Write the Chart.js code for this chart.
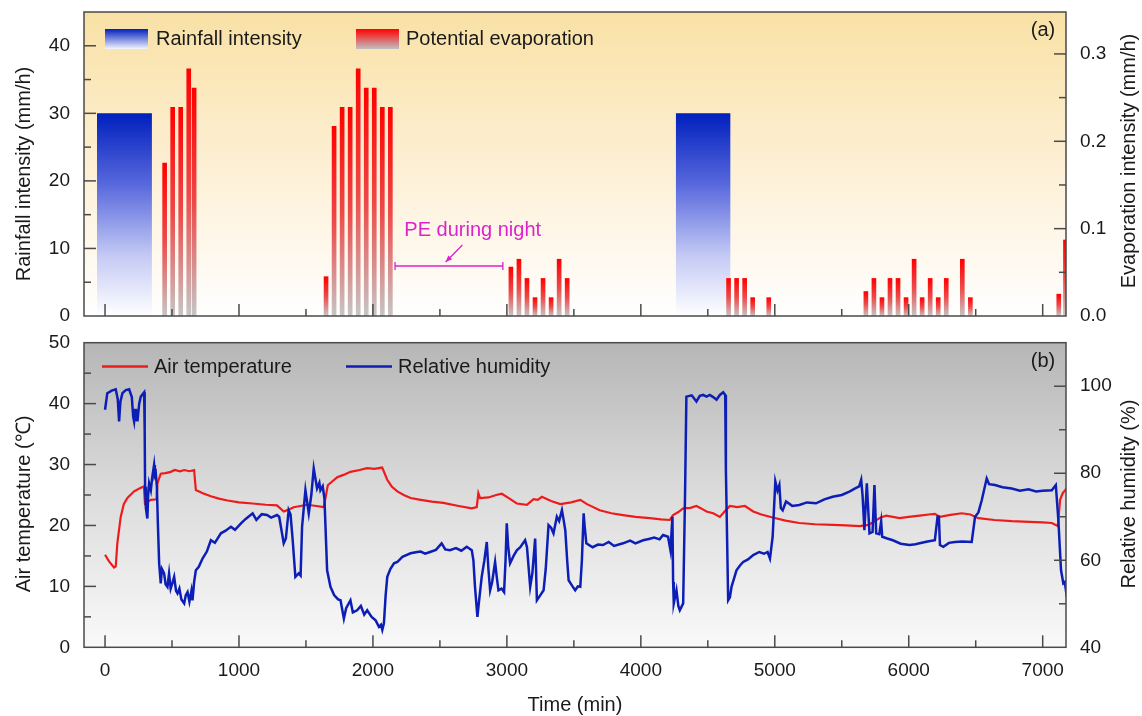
<!DOCTYPE html>
<html lang="en">
<head>
<meta charset="UTF-8">
<title>Rainfall, evaporation, air temperature and humidity</title>
<script src="https://cdn.jsdelivr.net/npm/chart.js"></script>
<style>
  body { margin: 0; background: #fff; }
  #wrap { position: relative; width: 1142px; height: 716px; }
  #topBox { position: absolute; left: 0; top: 0; width: 1142px; height: 330px; }
  #bottomBox { position: absolute; left: 0; top: 330px; width: 1142px; height: 386px; }
</style>
</head>
<body>
<div id="wrap">
  <div id="topBox"><canvas id="topChart"></canvas></div>
  <div id="bottomBox"><canvas id="bottomChart"></canvas></div>
</div>
<script>
// ---- data ----
// rainfall events: start/end (min) and intensity (mm/h)
const rainStart = [-60, 4262];
const rainEnd = [350, 4670];
const rainRate = [30, 30];

// potential evaporation, hourly values (min, mm/h)
const peTime = [445, 505, 565, 625, 665,
  1650, 1710, 1770, 1830, 1890, 1950, 2010, 2070, 2130,
  3030, 3090, 3150, 3210, 3270, 3330, 3390, 3450,
  4655, 4715, 4775, 4835, 4955,
  5680, 5740, 5800, 5860, 5920, 5980, 6040, 6100, 6160, 6220, 6280, 6400, 6460,
  7120, 7170];
const peValue = [0.175, 0.239, 0.239, 0.283, 0.261,
  0.045, 0.217, 0.239, 0.239, 0.283, 0.261, 0.261, 0.239, 0.239,
  0.056, 0.065, 0.043, 0.021, 0.043, 0.021, 0.065, 0.043,
  0.043, 0.043, 0.043, 0.021, 0.021,
  0.028, 0.043, 0.021, 0.043, 0.043, 0.021, 0.065, 0.021, 0.043, 0.021, 0.043, 0.065, 0.021,
  0.025, 0.087];

// air temperature (min, degC)
const tempTime = [
  0, 30, 67, 80, 92, 117, 140, 167, 217, 260,
  290, 298, 342, 385, 391, 416, 450, 491, 520, 560,
  591, 630, 665, 678, 730, 790, 850, 915, 1000, 1102,
  1200, 1284, 1334, 1370, 1408, 1508, 1580, 1633, 1663, 1700,
  1733, 1780, 1832, 1900, 1957, 2010, 2069, 2107, 2140, 2182,
  2230, 2281, 2356, 2440, 2526, 2640, 2738, 2775, 2787, 2800,
  2862, 2920, 2962, 3020, 3074, 3149, 3199, 3230, 3261, 3330,
  3398, 3480, 3548, 3598, 3693, 3780, 3867, 3960, 4067, 4150,
  4216, 4241, 4280, 4316, 4370, 4415, 4450, 4490, 4540, 4590,
  4630, 4665, 4720, 4777, 4839, 4900, 4984, 5080, 5183, 5300,
  5432, 5530, 5632, 5700, 5731, 5790, 5832, 5931, 6000, 6081,
  6150, 6195, 6233, 6300, 6395, 6460, 6520, 6640, 6769, 6900,
  7000, 7068, 7113, 7130, 7150, 7180];
const tempValue = [
  15.2, 14.1, 13.1, 13.3, 17.1, 21.4, 23.5, 24.5, 25.6, 26.1,
  26.4, 23.6, 24.2, 24.3, 26.9, 28.5, 28.6, 28.8, 29.1, 28.9,
  29.1, 28.9, 29.1, 25.8, 25.3, 24.8, 24.4, 24.1, 23.8, 23.6,
  23.4, 23.3, 22.3, 22.6, 23.0, 23.4, 23.2, 23.0, 26.6, 27.3,
  27.9, 28.3, 28.8, 29.1, 29.4, 29.3, 29.5, 27.5, 26.4, 25.6,
  25.0, 24.5, 24.2, 23.9, 23.7, 23.2, 22.8, 23.0, 25.3, 24.5,
  24.6, 25.0, 25.2, 24.4, 23.6, 23.4, 24.3, 24.2, 24.7, 24.0,
  23.5, 23.8, 24.2, 23.5, 22.5, 22.0, 21.7, 21.4, 21.2, 21.0,
  20.9, 21.7, 22.2, 22.8, 22.9, 23.2, 22.8, 22.3, 22.0, 21.4,
  22.4, 23.2, 23.0, 23.2, 22.3, 21.8, 21.3, 20.8, 20.4, 20.2,
  20.1, 20.0, 19.9, 20.1, 20.5, 21.3, 21.6, 21.2, 21.4, 21.6,
  21.8, 21.9, 21.4, 21.7, 22.0, 21.8, 21.2, 20.9, 20.7, 20.6,
  20.5, 20.4, 19.9, 24.2, 25.3, 26.1];

// relative humidity (min, %)
const rhTime = [
  0, 17, 50, 80, 95, 105, 115, 130, 155, 180,
  200, 210, 217, 225, 230, 238, 242, 255, 267, 292,
  296, 299, 305, 316, 322, 329, 342, 352, 366, 372,
  379, 387, 395, 404, 416, 425, 441, 452, 466, 478,
  490, 505, 516, 530, 541, 555, 570, 591, 603, 616,
  630, 645, 653, 665, 678, 700, 728, 760, 790, 820,
  865, 900, 940, 970, 1015, 1050, 1102, 1130, 1170, 1209,
  1240, 1284, 1300, 1334, 1350, 1371, 1385, 1400, 1421, 1446,
  1460, 1471, 1496, 1521, 1540, 1558, 1583, 1600, 1608, 1625,
  1638, 1658, 1683, 1710, 1740, 1758, 1783, 1800, 1832, 1850,
  1882, 1910, 1935, 1957, 1990, 2020, 2045, 2060, 2070, 2082,
  2095, 2107, 2130, 2157, 2182, 2220, 2281, 2330, 2356, 2390,
  2426, 2470, 2513, 2540, 2575, 2620, 2660, 2700, 2738, 2750,
  2762, 2780, 2790, 2812, 2832, 2850, 2862, 2875, 2890, 2912,
  2925, 2937, 2960, 2979, 2990, 2999, 3010, 3024, 3050, 3074,
  3100, 3136, 3150, 3174, 3190, 3211, 3224, 3250, 3274, 3290,
  3311, 3330, 3348, 3360, 3373, 3390, 3411, 3425, 3436, 3450,
  3461, 3490, 3510, 3530, 3548, 3560, 3573, 3580, 3593, 3640,
  3680, 3717, 3760, 3800, 3867, 3920, 3960, 4017, 4060, 4100,
  4140, 4166, 4203, 4221, 4236, 4241, 4246, 4266, 4280, 4291,
  4316, 4330, 4340, 4380, 4415, 4440, 4465, 4490, 4515, 4540,
  4565, 4590, 4615, 4630, 4635, 4652, 4665, 4677, 4714, 4740,
  4764, 4800, 4839, 4884, 4920, 4946, 4964, 4984, 5004, 5020,
  5034, 5045, 5059, 5084, 5130, 5183, 5240, 5308, 5370, 5432,
  5500, 5557, 5600, 5630, 5645, 5655, 5669, 5687, 5707, 5730,
  5744, 5757, 5780, 5794, 5802, 5840, 5881, 5940, 6006, 6050,
  6081, 6140, 6195, 6215, 6225, 6233, 6258, 6300, 6345, 6400,
  6470, 6495, 6520, 6545, 6582, 6600, 6644, 6700, 6769, 6830,
  6894, 6950, 7000, 7068, 7098, 7117, 7137, 7154, 7165, 7180];
const rhValue = [
  94.6, 98.4, 99.0, 99.3, 97.0, 91.9, 96.5, 98.4, 99.1, 99.3,
  97.5, 93.0, 91.9, 94.8, 92.0, 94.6, 91.9, 96.0, 97.6, 98.6,
  90.0, 76.9, 72.0, 69.6, 75.0, 77.7, 76.1, 79.0, 81.9, 79.5,
  80.0, 76.9, 68.0, 59.3, 54.7, 58.0, 57.0, 54.5, 53.9, 57.0,
  53.5, 55.0, 56.2, 53.0, 52.4, 53.5, 51.0, 50.1, 52.0, 52.7,
  50.5, 53.0, 50.8, 55.0, 57.7, 58.5, 60.4, 62.0, 64.6, 64.0,
  66.2, 66.8, 67.7, 67.0, 68.5, 69.5, 70.8, 69.3, 70.6, 70.4,
  69.8, 70.4, 70.0, 63.9, 65.0, 71.5, 70.5, 65.0, 56.2, 57.0,
  56.5, 67.7, 76.1, 70.8, 75.0, 81.1, 76.5, 77.8, 76.1, 77.0,
  74.2, 57.7, 53.9, 52.0, 51.0, 50.8, 46.6, 49.0, 50.8, 48.0,
  48.5, 49.5, 47.5, 48.5, 47.0, 46.2, 44.7, 45.2, 44.0, 45.5,
  52.0, 56.2, 58.0, 59.3, 59.6, 60.8, 61.6, 61.9, 62.0, 61.5,
  61.9, 62.4, 63.9, 62.5, 62.3, 62.8, 62.2, 63.1, 62.3, 60.0,
  53.9, 47.0, 50.0, 56.2, 60.0, 64.2, 58.0, 53.1, 55.0, 59.6,
  56.0, 53.1, 53.5, 52.7, 60.0, 68.5, 63.0, 59.3, 61.0, 62.3,
  63.0, 64.6, 63.0, 53.9, 57.0, 65.0, 50.8, 52.0, 53.1, 58.0,
  68.1, 67.5, 66.2, 68.0, 70.0, 69.0, 71.5, 69.0, 66.9, 60.0,
  55.4, 54.0, 53.1, 54.0, 53.9, 60.0, 70.8, 68.0, 63.9, 63.0,
  63.6, 63.5, 64.2, 63.3, 63.9, 64.5, 63.9, 64.6, 64.9, 65.2,
  64.8, 65.8, 65.4, 62.3, 70.0, 55.0, 50.1, 53.1, 49.5, 48.5,
  50.1, 75.0, 97.6, 97.9, 96.5, 97.8, 98.0, 97.6, 98.0, 97.5,
  96.9, 98.0, 98.6, 98.0, 80.8, 50.8, 51.5, 53.9, 57.7, 58.8,
  59.6, 60.2, 61.2, 61.9, 61.5, 61.9, 60.4, 65.4, 78.1, 76.0,
  77.3, 72.0, 71.5, 73.5, 72.5, 72.7, 73.3, 73.1, 74.0, 74.6,
  75.0, 75.8, 76.5, 77.0, 78.5, 75.0, 66.9, 77.7, 66.2, 66.5,
  77.3, 66.2, 66.0, 68.9, 65.4, 65.0, 64.6, 63.8, 63.5, 63.7,
  63.9, 64.3, 64.6, 70.0, 70.0, 63.5, 63.1, 64.0, 64.2, 64.3,
  64.2, 70.0, 71.0, 73.8, 78.8, 77.5, 77.3, 76.8, 76.5, 76.0,
  76.3, 75.8, 76.0, 76.1, 77.3, 69.2, 57.7, 54.7, 55.0, 51.6];

// axis ticks (all tick marks) and the labelled ones
const timeTicks = [0, 500, 1000, 1500, 2000, 2500, 3000, 3500, 4000, 4500, 5000, 5500, 6000, 6500, 7000];
const timeLabels = [0, 1000, 2000, 3000, 4000, 5000, 6000, 7000];
const rainTicks = [0, 5, 10, 15, 20, 25, 30, 35, 40];
const rainLabels = [0, 10, 20, 30, 40];
const evapTicks = [0, 0.05, 0.1, 0.15, 0.2, 0.25, 0.3];
const evapLabels = [0, 0.1, 0.2, 0.3];
const tempTicks = [0, 5, 10, 15, 20, 25, 30, 35, 40, 45, 50];
const tempLabels = [0, 10, 20, 30, 40, 50];
const rhTicks = [40, 50, 60, 70, 80, 90, 100];
const rhLabels = [40, 60, 80, 100];

const xMin = -157, xMax = 7174;

// ---- helpers ----
Chart.defaults.font.family = '"Liberation Sans", Arial, Helvetica, sans-serif';
Chart.defaults.color = '#1a1a1a';
const FONT = '"Liberation Sans", Arial, Helvetica, sans-serif';
const FRAME = '#4a4a4a';
const MAGENTA = '#dd22cc';
const RED = '#ee1b1b';
const BLUE = '#0c1eb6';

const pairs = (xs, ys) => xs.map((x, i) => ({x: x, y: ys[i]}));
const setTicks = values => s => { s.ticks = values.map(v => ({value: v})); };
const labelIf = (labels, fmt) => v => labels.includes(v) ? fmt(v) : '';
// fixed box size, and no extra room for half tick labels at the ends
const fixSize = (w, h) => s => {
  if (w !== null) s.width = w;
  if (h !== null) s.height = h;
  s.paddingTop = 0; s.paddingBottom = 0; s.paddingLeft = 0; s.paddingRight = 0;
};

const rainPoints = [];
rainStart.forEach((s, i) => {
  rainPoints.push({x: s, y: 0}, {x: s, y: rainRate[i]}, {x: rainEnd[i], y: rainRate[i]}, {x: rainEnd[i], y: 0});
});

function rainFill(c) {
  const chart = c.chart;
  if (!chart.chartArea) return '#5566dd';
  const s = chart.scales.y;
  const g = chart.ctx.createLinearGradient(0, s.getPixelForValue(Math.max(...rainRate)), 0, s.getPixelForValue(0));
  g.addColorStop(0, '#0020bd');
  g.addColorStop(0.35, '#5868dd');
  g.addColorStop(0.7, '#c3c9f4');
  g.addColorStop(1, '#ffffff');
  return g;
}

function peFill(c) {
  const chart = c.chart;
  if (!chart.chartArea || !c.parsed) return '#ee3333';
  const s = chart.scales.yE;
  const g = chart.ctx.createLinearGradient(0, s.getPixelForValue(c.parsed.y), 0, s.getPixelForValue(0));
  g.addColorStop(0, '#ff0000');
  g.addColorStop(0.5, '#ef4848');
  g.addColorStop(1, '#c6c6c6');
  return g;
}

// background gradient, inward tick marks, frame and vertical axis titles
const panelPlugin = {
  id: 'panel',
  beforeDraw(chart, args, o) {
    const {ctx, chartArea: a} = chart;
    const g = ctx.createLinearGradient(0, a.top, 0, a.bottom);
    o.background.forEach(([stop, col]) => g.addColorStop(stop, col));
    ctx.save();
    ctx.fillStyle = g;
    ctx.fillRect(a.left, a.top, a.width, a.height);
    ctx.restore();
  },
  afterDraw(chart, args, o) {
    const {ctx, chartArea: a} = chart;
    ctx.save();
    ctx.strokeStyle = FRAME;
    ctx.lineWidth = 1.5;
    Object.values(chart.scales).forEach(sc => {
      const majors = o.majors[sc.id] || [];
      sc.ticks.forEach(t => {
        if (t.value <= sc.min || t.value >= sc.max) return;
        const p = sc.getPixelForValue(t.value);
        const len = majors.includes(t.value) ? 12 : 7;
        ctx.beginPath();
        if (sc.axis === 'x') { ctx.moveTo(p, a.bottom); ctx.lineTo(p, a.bottom - len); }
        else if (sc.position === 'left') { ctx.moveTo(a.left, p); ctx.lineTo(a.left + len, p); }
        else { ctx.moveTo(a.right, p); ctx.lineTo(a.right - len, p); }
        ctx.stroke();
      });
    });
    ctx.strokeRect(a.left, a.top, a.width, a.height);

    ctx.fillStyle = '#1a1a1a';
    ctx.font = '20px ' + FONT;
    ctx.textAlign = 'center';
    ctx.textBaseline = 'middle';
    o.titles.forEach(t => {
      ctx.save();
      ctx.translate(t.x, (a.top + a.bottom) / 2 + t.dy);
      ctx.rotate(-Math.PI / 2);
      ctx.fillText(t.text, 0, 0);
      ctx.restore();
    });
    ctx.fillText(o.tag, 1043, o.tagY);
    ctx.restore();
  }
};

function swatch(ctx, x, y, w, h, c1, c2) {
  const g = ctx.createLinearGradient(0, y, 0, y + h);
  g.addColorStop(0, c1);
  g.addColorStop(1, c2);
  ctx.fillStyle = g;
  ctx.fillRect(x, y, w, h);
}

const topExtras = {
  id: 'topExtras',
  afterDraw(chart) {
    const {ctx, scales: {x, y}} = chart;
    ctx.save();
    swatch(ctx, 105, 29, 43, 20, '#0020bd', '#f4f5ff');
    swatch(ctx, 356, 29, 43, 20, '#ff0000', '#c0c0c0');
    ctx.fillStyle = '#1a1a1a';
    ctx.font = '20px ' + FONT;
    ctx.textBaseline = 'middle';
    ctx.fillText('Rainfall intensity', 156, 39);
    ctx.fillText('Potential evaporation', 406, 39);

    // "PE during night" note
    ctx.strokeStyle = MAGENTA;
    ctx.fillStyle = MAGENTA;
    ctx.lineWidth = 1.3;
    const x1 = x.getPixelForValue(2165), x2 = x.getPixelForValue(2970), yb = y.getPixelForValue(7.4);
    ctx.beginPath();
    ctx.moveTo(x1, yb); ctx.lineTo(x2, yb);
    ctx.moveTo(x1, yb - 4); ctx.lineTo(x1, yb + 4);
    ctx.moveTo(x2, yb - 4); ctx.lineTo(x2, yb + 4);
    const ax1 = x.getPixelForValue(2668), ay1 = y.getPixelForValue(10.5);
    const ax2 = x.getPixelForValue(2543), ay2 = y.getPixelForValue(8.0);
    ctx.moveTo(ax1, ay1); ctx.lineTo(ax2, ay2);
    ctx.stroke();
    const ang = Math.atan2(ay2 - ay1, ax2 - ax1);
    ctx.beginPath();
    ctx.moveTo(ax2, ay2);
    ctx.lineTo(ax2 - 7 * Math.cos(ang - 0.4), ay2 - 7 * Math.sin(ang - 0.4));
    ctx.lineTo(ax2 - 7 * Math.cos(ang + 0.4), ay2 - 7 * Math.sin(ang + 0.4));
    ctx.closePath();
    ctx.fill();
    ctx.textAlign = 'center';
    ctx.fillText('PE during night', x.getPixelForValue(2745), y.getPixelForValue(12.7));
    ctx.restore();
  }
};

const bottomExtras = {
  id: 'bottomExtras',
  afterDraw(chart) {
    const ctx = chart.ctx;
    ctx.save();
    ctx.lineWidth = 2.5;
    ctx.strokeStyle = RED;
    ctx.beginPath(); ctx.moveTo(102, 36.5); ctx.lineTo(148, 36.5); ctx.stroke();
    ctx.strokeStyle = BLUE;
    ctx.beginPath(); ctx.moveTo(346, 36.5); ctx.lineTo(392, 36.5); ctx.stroke();
    ctx.fillStyle = '#1a1a1a';
    ctx.font = '20px ' + FONT;
    ctx.textBaseline = 'middle';
    ctx.fillText('Air temperature', 154, 37);
    ctx.fillText('Relative humidity', 398, 37);
    ctx.restore();
  }
};

const tickFont = {size: 19};
const hidden = {display: false, drawTicks: false};

// ---- top panel (a) ----
new Chart(document.getElementById('topChart'), {
  type: 'line',
  data: {
    datasets: [
      {
        type: 'line', label: 'Rainfall intensity', data: rainPoints, yAxisID: 'y',
        borderWidth: 0, pointRadius: 0, tension: 0, fill: 'origin', backgroundColor: rainFill, order: 2
      },
      {
        type: 'bar', label: 'Potential evaporation', data: pairs(peTime, peValue), yAxisID: 'yE',
        barThickness: 4, backgroundColor: peFill, borderWidth: 0, order: 1
      }
    ]
  },
  options: {
    responsive: true,
    maintainAspectRatio: false,
    animation: false,
    layout: {padding: {top: 12, left: 0, right: 0, bottom: 0}},
    plugins: {
      legend: {display: false},
      tooltip: {enabled: false},
      panel: {
        background: [[0, '#f9e1a5'], [0.5, '#fdefd4'], [1, '#ffffff']],
        majors: {x: timeLabels, y: rainLabels, yE: evapLabels},
        titles: [
          {text: 'Rainfall intensity (mm/h)', x: 24, dy: 10},
          {text: 'Evaporation intensity (mm/h)', x: 1129, dy: -3}
        ],
        tag: '(a)', tagY: 30
      }
    },
    scales: {
      x: {
        type: 'linear', min: xMin, max: xMax, bounds: 'data', offset: false,
        grid: {display: false, drawTicks: false, offset: false}, border: {display: false},
        ticks: {display: false},
        afterBuildTicks: setTicks(timeTicks),
        afterFit: fixSize(null, 14)
      },
      y: {
        type: 'linear', position: 'left', min: 0, max: 45, bounds: 'data',
        grid: hidden, border: {display: false},
        ticks: {font: tickFont, padding: 14, autoSkip: false, callback: labelIf(rainLabels, v => v)},
        afterBuildTicks: setTicks(rainTicks),
        afterFit: fixSize(84, null)
      },
      yE: {
        type: 'linear', position: 'right', min: 0, max: 0.348, bounds: 'data',
        grid: hidden, border: {display: false},
        ticks: {font: tickFont, padding: 14, autoSkip: false, callback: labelIf(evapLabels, v => v.toFixed(1))},
        afterBuildTicks: setTicks(evapTicks),
        afterFit: fixSize(76, null)
      }
    }
  },
  plugins: [panelPlugin, topExtras]
});

// ---- bottom panel (b) ----
new Chart(document.getElementById('bottomChart'), {
  type: 'line',
  data: {
    datasets: [
      {
        label: 'Air temperature', data: pairs(tempTime, tempValue), yAxisID: 'y',
        borderColor: RED, borderWidth: 2.2, pointRadius: 0, tension: 0, fill: false, order: 2
      },
      {
        label: 'Relative humidity', data: pairs(rhTime, rhValue), yAxisID: 'yH',
        borderColor: BLUE, borderWidth: 2.5, pointRadius: 0, tension: 0, fill: false, order: 1
      }
    ]
  },
  options: {
    responsive: true,
    maintainAspectRatio: false,
    animation: false,
    layout: {padding: {top: 12.7, left: 0, right: 0, bottom: 0}},
    plugins: {
      legend: {display: false},
      tooltip: {enabled: false},
      panel: {
        background: [[0, '#b6b6b6'], [0.5, '#dcdcdc'], [1, '#f9f9f9']],
        majors: {x: timeLabels, y: tempLabels, yH: rhLabels},
        titles: [
          {text: 'Air temperature (\u2103)', x: 24, dy: 9},
          {text: 'Relative humidity (%)', x: 1129, dy: -1}
        ],
        tag: '(b)', tagY: 31
      }
    },
    scales: {
      x: {
        type: 'linear', min: xMin, max: xMax, bounds: 'data', offset: false,
        grid: hidden, border: {display: false},
        ticks: {font: tickFont, padding: 12, autoSkip: false, maxRotation: 0, callback: labelIf(timeLabels, v => v)},
        title: {display: true, text: 'Time (min)', font: {size: 20, lineHeight: 1.1}, padding: 0, color: '#1a1a1a'},
        afterBuildTicks: setTicks(timeTicks),
        afterFit: fixSize(null, 68.7)
      },
      y: {
        type: 'linear', position: 'left', min: 0, max: 50, bounds: 'data',
        grid: hidden, border: {display: false},
        ticks: {font: tickFont, padding: 14, autoSkip: false, callback: labelIf(tempLabels, v => v)},
        afterBuildTicks: setTicks(tempTicks),
        afterFit: fixSize(84, null)
      },
      yH: {
        type: 'linear', position: 'right', min: 40, max: 110, bounds: 'data',
        grid: hidden, border: {display: false},
        ticks: {font: tickFont, padding: 14, autoSkip: false, callback: labelIf(rhLabels, v => v)},
        afterBuildTicks: setTicks(rhTicks),
        afterFit: fixSize(76, null)
      }
    }
  },
  plugins: [panelPlugin, bottomExtras]
});
</script>
</body>
</html>
